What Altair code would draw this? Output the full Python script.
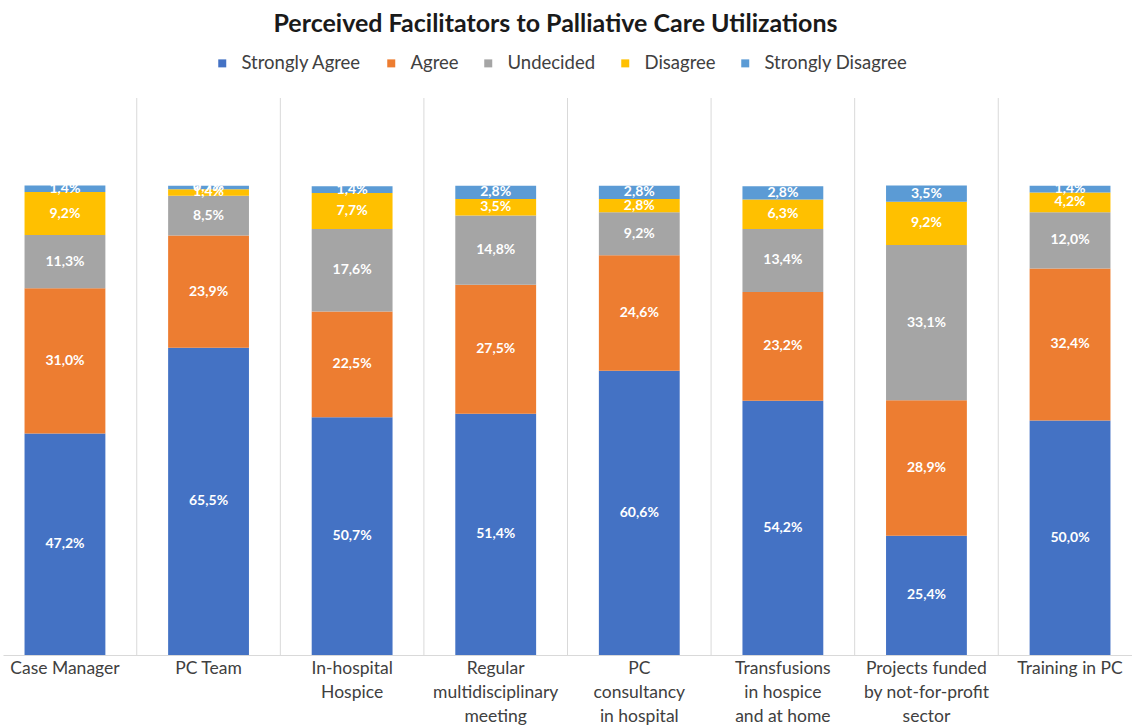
import altair as alt
import pandas as pd

# Survey items (a "|" marks a line break in the axis label)
categories = [
    "Case Manager",
    "PC Team",
    "In-hospital|Hospice",
    "Regular|multidisciplinary|meeting",
    "PC|consultancy|in hospital",
    "Transfusions|in hospice|and at home",
    "Projects funded|by not-for-profit|sector",
    "Training in PC",
]
responses = ["Strongly Agree", "Agree", "Undecided", "Disagree", "Strongly Disagree"]
colors = ["#4472C4", "#ED7D31", "#A5A5A5", "#FFC000", "#5B9BD5"]

# Share of respondents (%) per answer, one value per item
strongly_agree = [47.2, 65.5, 50.7, 51.4, 60.6, 54.2, 25.4, 50.0]
agree = [31.0, 23.9, 22.5, 27.5, 24.6, 23.2, 28.9, 32.4]
undecided = [11.3, 8.5, 17.6, 14.8, 9.2, 13.4, 33.1, 12.0]
disagree = [9.2, 1.4, 7.7, 3.5, 2.8, 6.3, 9.2, 4.2]
strongly_disagree = [1.4, 0.7, 1.4, 2.8, 2.8, 2.8, 3.5, 1.4]

series = [strongly_agree, agree, undecided, disagree, strongly_disagree]
rows = []
for rank, (resp, vals) in enumerate(zip(responses, series)):
    for cat, v in zip(categories, vals):
        rows.append({"category": cat, "response": resp, "rank": rank, "value": v})
df = pd.DataFrame(rows)

FONT = "Lato"
W, H = 1129, 555
P_INNER, P_OUTER = 0.437, 0.15
step = W / (len(categories) - P_INNER + 2 * P_OUTER)

x_scale = alt.Scale(paddingInner=P_INNER, paddingOuter=P_OUTER)
y_scale = alt.Scale(domain=[0, 118.3], nice=False)

base = alt.Chart(df).transform_stack(
    stack="value",
    groupby=["category"],
    as_=["y0", "y1"],
    sort=[alt.SortField("rank", order="ascending")],
).transform_calculate(
    mid="(datum.y0 + datum.y1) / 2",
    label="replace(format(datum.value, '.1f'), '.', ',') + '%'",
)

x_enc = alt.X(
    "category:N",
    sort=categories,
    scale=x_scale,
    title=None,
    axis=alt.Axis(
        labelAngle=0,
        labelExpr="split(datum.label, '|')",
        labelFont=FONT,
        labelFontSize=17.5,
        labelColor="#404040",
        labelPadding=4,
        labelLineHeight=24,
        labelLimit=0,
        ticks=False,
        domainColor="#d9d9d9",
        grid=False,
    ),
)

bars = base.mark_bar().encode(
    x=x_enc,
    y=alt.Y("y0:Q", scale=y_scale, axis=None),
    y2="y1:Q",
    color=alt.Color(
        "response:N",
        scale=alt.Scale(domain=responses, range=colors),
        legend=alt.Legend(
            title=None,
            orient="none",
            direction="horizontal",
            legendX=210,
            legendY=-46,
            symbolType="square",
            symbolSize=64,
            symbolStrokeWidth=0,
            labelFont=FONT,
            labelFontSize=18.5,
            labelColor="#404040",
            columnPadding=20,
            labelOffset=10,
        ),
    ),
    order=alt.Order("rank:Q", sort="ascending"),
)

labels = base.mark_text(
    color="white", fontWeight="bold", fontSize=14, font=FONT
).encode(
    x=alt.X("category:N", sort=categories, scale=x_scale),
    y=alt.Y("mid:Q", scale=y_scale),
    text="label:N",
)

# Thin separators half a step left of each item centre (they sit in the gaps)
sep = alt.Chart(pd.DataFrame({"category": categories[1:]})).mark_rule(
    color="#d9d9d9", strokeWidth=1, xOffset=-step / 2
).encode(
    x=alt.X("category:N", sort=categories, scale=x_scale),
    y=alt.value(-2),
    y2=alt.value(H),
)

chart = alt.layer(bars, labels, sep).properties(
    width=W,
    height=H,
    padding={"left": 3, "top": 12, "right": 0, "bottom": 0},
    title=alt.TitleParams(
        "Perceived Facilitators to Palliative Care Utilizations",
        font=FONT,
        fontSize=25,
        fontWeight="bold",
        color="#1a1a1a",
        anchor="middle",
        offset=17,
        dx=-12,
    ),
).configure_view(strokeWidth=0)

chart.save("out.html", embed_options={"renderer": "svg", "actions": False})
